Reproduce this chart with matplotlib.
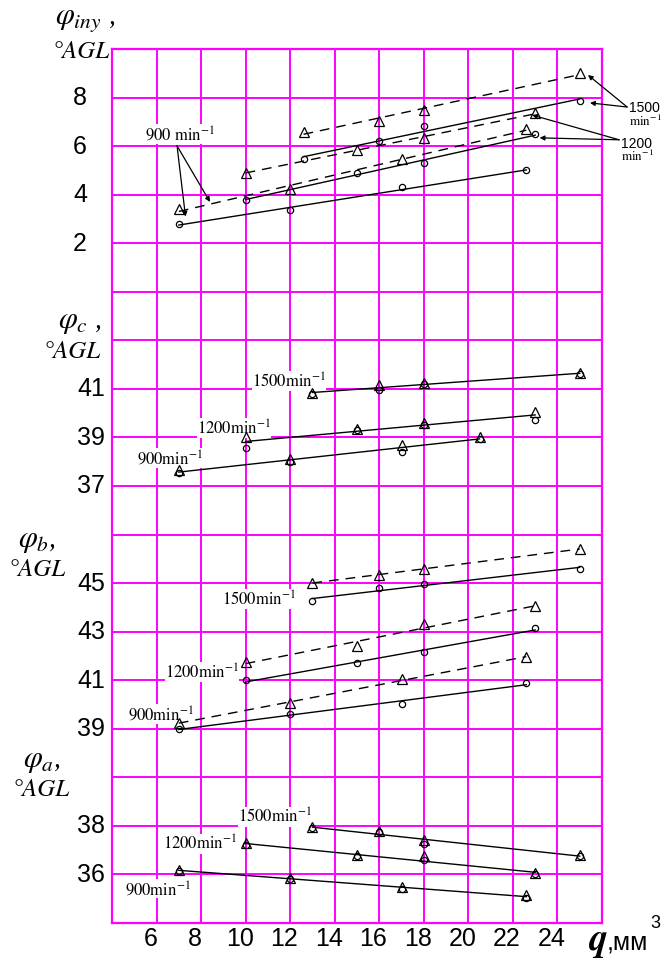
import numpy as np
import matplotlib
matplotlib.use("Agg")
import matplotlib.pyplot as plt
from matplotlib import transforms
from matplotlib.patches import FancyArrowPatch

plt.rcParams['mathtext.fontset'] = 'stix'

# --- data ---
q_ticks = [6, 8, 10, 12, 14, 16, 18, 20, 22, 24]

# phi_iny
iny_q900 = [7, 12, 17, 22.6]
iny_tri900 = [3.4, 4.25, 5.45, 6.7]
iny_circ900 = [2.8, 3.35, 4.3, 5.0]
iny_q1200 = [10, 15, 18, 23]
iny_tri1200 = [4.9, 5.85, 6.35, 7.35]
iny_circ1200 = [3.8, 4.9, 5.3, 6.5]
iny_q1500 = [12.6, 16, 18, 25]
iny_tri1500 = [6.6, 7.05, 7.5, 9.0]
iny_circ1500 = [5.45, 6.2, 6.82, 7.85]

# phi_c
c_q900 = [7, 12, 17, 20.5]
c_tri900 = [37.65, 38.1, 38.7, 39.0]
c_circ900 = [37.55, 38.0, 38.4, 38.95]
c_q1200 = [10, 15, 18, 23]
c_tri1200 = [39.0, 39.35, 39.6, 40.05]
c_circ1200 = [38.55, 39.3, 39.5, 39.7]
c_q1500 = [13, 16, 18, 25]
c_tri1500 = [40.85, 41.15, 41.25, 41.65]
c_circ1500 = [40.8, 40.95, 41.2, 41.6]

# phi_b
b_q900 = [7, 12, 17, 22.6]
b_tri900 = [39.25, 40.05, 41.05, 41.95]
b_circ900 = [39.0, 39.6, 40.0, 40.9]
b_q1200 = [10, 15, 18, 23]
b_tri1200 = [41.75, 42.4, 43.3, 44.05]
b_circ1200 = [41.0, 41.7, 42.15, 43.15]
b_q1500 = [13, 16, 18, 25]
b_tri1500 = [45.0, 45.35, 45.6, 46.4]
b_circ1500 = [44.25, 44.8, 44.95, 45.6]

# phi_a
a_q900 = [7, 12, 17, 22.6]
a_tri900 = [36.2, 35.85, 35.5, 35.15]
a_circ900 = [36.15, 35.8, 35.4, 35.05]
a_q1200 = [10, 15, 18, 23]
a_tri1200 = [37.3, 36.8, 36.75, 36.05]
a_circ1200 = [37.2, 36.75, 36.6, 36.0]
a_q1500 = [13, 16, 18, 25]
a_tri1500 = [37.95, 37.8, 37.4, 36.8]
a_circ1500 = [37.9, 37.75, 37.25, 36.75]

W, H = 662, 962
MAG = '#ff00ff'
NUMFONT = ['Liberation Sans', 'DejaVu Sans']
SERIF = 'STIXGeneral'

fig = plt.figure(figsize=(W / 100, H / 100), dpi=100)
rect = [112 / W, (H - 924) / H, 490 / W, 874 / H]

# background grid
bg = fig.add_axes(rect)
bg.set_xlim(4, 26)
bg.set_ylim(18, 0)
bg.set_xticks(np.arange(4, 27, 2))
bg.set_xticklabels([''] + [str(t) for t in q_ticks] + [''], family=NUMFONT, fontsize=18)
bg.set_yticks(np.arange(0, 19))
bg.grid(True, color=MAG, lw=1.4)
bg.tick_params(length=0, labelleft=False, pad=2)
for s in bg.spines.values():
    s.set_color(MAG)
    s.set_linewidth(1.6)
off = transforms.ScaledTranslation(-0.06, 0, fig.dpi_scale_trans)
for lab in bg.get_xticklabels():
    lab.set_transform(lab.get_transform() + off)


def panel(top, ticks, pad):
    ax = fig.add_axes(rect, frameon=False)
    ax.patch.set_alpha(0)
    ax.set_xlim(4, 26)
    ax.set_ylim(top - 36, top)
    ax.set_xticks([])
    ax.set_yticks(ticks)
    ax.set_yticklabels([str(t) for t in ticks], family=NUMFONT, fontsize=18)
    ax.tick_params(length=0, pad=pad)
    up = transforms.ScaledTranslation(0, 0.03, fig.dpi_scale_trans)
    for lab in ax.get_yticklabels():
        lab.set_transform(lab.get_transform() + up)
    return ax


def fit_line(ax, q, v, ls):
    k, b = np.polyfit(q, v, 1)
    xs = np.array([q[0], q[-1]])
    ax.plot(xs, k * xs + b, color='black', lw=1.0, ls=ls, zorder=2)


def markers(ax, q, tri, circ):
    ax.plot(q, tri, ls='none', marker='^', ms=6.5, mfc='none', mec='black', mew=0.9, zorder=3)
    ax.plot(q, circ, ls='none', marker='o', ms=4.5, mfc='none', mec='black', mew=0.9, zorder=3)


def split_series(ax, q, tri, circ):
    fit_line(ax, q, tri, (0, (7, 5)))
    fit_line(ax, q, circ, '-')
    markers(ax, q, tri, circ)


def joint_series(ax, q, tri, circ):
    fit_line(ax, q, (np.array(tri) + np.array(circ)) / 2, '-')
    markers(ax, q, tri, circ)


def rpm_label(ax, x, y, n):
    ax.text(x, y, n + r'min$^{-1}$', family=SERIF, fontsize=12, ha='left', va='baseline',
            zorder=1, bbox=dict(facecolor='white', edgecolor='none', pad=0.3))


def pointer(ax, start, end):
    p = FancyArrowPatch(start, end, arrowstyle='-|>', color='black', lw=0.9,
                        mutation_scale=7, shrinkA=0, shrinkB=0, clip_on=False)
    ax.add_patch(p)


# phi_iny
ax = panel(10, [2, 4, 6, 8], 18)
split_series(ax, iny_q900, iny_tri900, iny_circ900)
split_series(ax, iny_q1200, iny_tri1200, iny_circ1200)
split_series(ax, iny_q1500, iny_tri1500, iny_circ1500)
ax.text(5.48, 6.26, r'900 min$^{-1}$', family=SERIF, fontsize=12, va='baseline', zorder=1,
        bbox=dict(facecolor='white', edgecolor='none', pad=0.3))
for end in [(7.3, 3.1), (8.4, 3.7)]:
    pointer(ax, (6.92, 6.01), end)
for end in [(25.37, 8.93), (25.46, 7.78)]:
    pointer(ax, (27.13, 7.61), end)
for end in [(22.86, 7.28), (23.2, 6.34)]:
    pointer(ax, (26.77, 6.26), end)
# right-hand labels wrapped so they stay inside the figure
ax.text(27.21, 7.45, '1500', family=NUMFONT, fontsize=10, va='baseline', clip_on=False)
ax.text(27.21, 6.88, r'min$^{-1}$', family=SERIF, fontsize=9.5, va='baseline', clip_on=False)
ax.text(26.86, 5.98, '1200', family=NUMFONT, fontsize=10, va='baseline', clip_on=False)
ax.text(26.86, 5.41, r'min$^{-1}$', family=SERIF, fontsize=9.5, va='baseline', clip_on=False)

# phi_c
ax = panel(55, [37, 39, 41], 5)
joint_series(ax, c_q900, c_tri900, c_circ900)
joint_series(ax, c_q1200, c_tri1200, c_circ1200)
joint_series(ax, c_q1500, c_tri1500, c_circ1500)
rpm_label(ax, 10.29, 41.09, '1500')
rpm_label(ax, 7.82, 39.16, '1200')
rpm_label(ax, 5.12, 37.92, '900')

# phi_b
ax = panel(67, [39, 41, 43, 45], 5)
split_series(ax, b_q900, b_tri900, b_circ900)
split_series(ax, b_q1200, b_tri1200, b_circ1200)
split_series(ax, b_q1500, b_tri1500, b_circ1500)
rpm_label(ax, 8.94, 44.12, '1500')
rpm_label(ax, 6.38, 41.12, '1200')
rpm_label(ax, 4.72, 39.38, '900')

# phi_a
ax = panel(70, [36, 38], 5)
joint_series(ax, a_q900, a_tri900, a_circ900)
joint_series(ax, a_q1200, a_tri1200, a_circ1200)
joint_series(ax, a_q1500, a_tri1500, a_circ1500)
rpm_label(ax, 9.66, 38.15, '1500')
rpm_label(ax, 6.29, 37.04, '1200')
rpm_label(ax, 4.58, 35.19, '900')


# axis titles
def ftext(x, y, s, **kw):
    fig.text(x / W, 1 - y / H, s, **kw)


for x, y, s in [(55, 20, r'$\varphi_{iny}$ ,'), (58, 322, r'$\varphi_{c}$ ,'),
                (18, 541, r'$\varphi_{b}$,'), (23, 761, r'$\varphi_{a}$,')]:
    ftext(x, y, s, family=SERIF, style='italic', fontsize=22, va='center')
for x, y in [(52, 52), (43, 352), (8, 570), (12, 790)]:
    ftext(x, y, '°AGL', family=SERIF, style='italic', fontsize=18, va='center')

ftext(589, 950, 'q', family=SERIF, style='italic', weight='bold', fontsize=27, va='baseline')
ftext(607, 950, ',мм', family=NUMFONT, fontsize=18, va='baseline')
ftext(650, 928, '3', family=NUMFONT, fontsize=13, va='baseline')

fig.savefig('out.png', dpi=100, facecolor='white')
